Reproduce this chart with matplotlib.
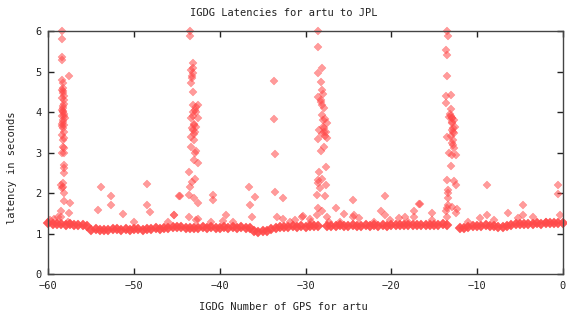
import matplotlib
matplotlib.use("Agg")
import matplotlib.pyplot as plt

# Baseline band (dense steady latency)
base_x = [-60.0, -59.5, -59.0, -58.5, -58.0, -57.5, -57.0, -56.5, -56.0, -55.5,
          -55.0, -54.5, -54.0, -53.5, -53.0, -52.5, -52.0, -51.5, -51.0, -50.5,
          -50.0, -49.5, -49.0, -48.5, -48.0, -47.5, -47.0, -46.5, -46.0, -45.5,
          -45.0, -44.5, -44.0, -43.5, -43.0, -42.5, -42.0, -41.5, -41.0, -40.5,
          -40.0, -39.5, -39.0, -38.5, -38.0, -37.5, -37.0, -36.5, -36.0, -35.5,
          -35.0, -34.5, -34.0, -33.5, -33.0, -32.5, -32.0, -31.5, -31.0, -30.5,
          -30.0, -29.5, -29.0, -28.5, -27.5, -27.0, -26.5, -26.0, -25.5, -25.0,
          -24.5, -24.0, -23.5, -23.0, -22.5, -22.0, -21.5, -21.0, -20.5, -20.0,
          -19.5, -19.0, -18.5, -18.0, -17.5, -17.0, -16.5, -16.0, -15.5, -15.0,
          -14.5, -14.0, -13.5, -12.0, -11.5, -11.0, -10.5, -10.0, -9.5, -9.0,
          -8.5, -8.0, -7.5, -7.0, -6.5, -6.0, -5.5, -5.0, -4.5, -4.0,
          -3.5, -3.0, -2.5, -2.0, -1.5, -1.0, -0.5, 0.0]
base_y = [1.27, 1.25, 1.24, 1.25, 1.22, 1.24, 1.22, 1.21, 1.22, 1.18,
          1.10, 1.11, 1.10, 1.09, 1.10, 1.11, 1.12, 1.10, 1.11, 1.10,
          1.11, 1.12, 1.10, 1.11, 1.12, 1.13, 1.12, 1.14, 1.15, 1.16,
          1.16, 1.17, 1.15, 1.14, 1.13, 1.15, 1.16, 1.15, 1.16, 1.15,
          1.15, 1.16, 1.15, 1.16, 1.15, 1.16, 1.15, 1.14, 1.07, 1.05,
          1.06, 1.07, 1.12, 1.15, 1.17, 1.16, 1.17, 1.18, 1.17, 1.18,
          1.17, 1.18, 1.19, 1.18, 1.19, 1.20, 1.20, 1.21, 1.20, 1.20,
          1.21, 1.20, 1.20, 1.21, 1.20, 1.21, 1.20, 1.21, 1.20, 1.21,
          1.22, 1.21, 1.22, 1.21, 1.22, 1.21, 1.22, 1.22, 1.21, 1.22,
          1.22, 1.23, 1.22, 1.14, 1.13, 1.16, 1.18, 1.19, 1.20, 1.21,
          1.20, 1.18, 1.17, 1.16, 1.20, 1.21, 1.23, 1.24, 1.23, 1.25,
          1.25, 1.26, 1.25, 1.26, 1.26, 1.27, 1.27, 1.27]

# Spikes and outliers
spike_x = [-58.47, -58.43, -58.43, -58.43, -58.47, -58.35, -57.66, -58.43, -58.35, -58.27,
           -58.47, -58.16, -58.39, -58.31, -58.27, -58.41, -58.35, -58.20, -58.37, -58.31,
           -58.24, -58.20, -58.37, -58.31, -58.24, -58.16, -58.41, -58.20, -58.22, -58.24,
           -58.49, -58.39, -58.31, -58.27, -58.16, -58.16, -57.50, -57.56, -58.51, -58.53,
           -58.30, -58.20, -58.40, -58.25, -58.10, -58.35, -58.20, -58.30, -58.15, -58.30,
           -58.20,
           -43.47, -43.47, -43.16, -43.35, -43.16, -43.24, -43.35, -43.16, -43.16, -42.78,
           -42.59, -43.16, -42.78, -43.35, -42.59, -42.97, -42.78, -43.16, -42.86, -43.35,
           -42.97, -43.35, -42.78, -42.86, -42.97, -42.59, -43.55, -43.24, -42.86, -43.47,
           -43.55, -43.08, -42.52, -43.55,
           -43.00, -43.10, -42.90, -43.20, -43.00, -43.10, -43.20,
           -28.50, -28.50, -28.12, -28.50, -28.20, -28.12, -28.50, -28.24, -28.12, -27.82,
           -28.05, -27.74, -27.55, -27.93, -28.43, -27.66, -27.74, -28.50, -27.55, -27.82,
           -28.20, -27.66, -28.43, -28.55, -28.05, -28.55, -28.35, -27.59, -28.62, -27.74,
           -28.55, -28.62, -28.05, -27.45, -27.32,
           -28.00, -27.90, -28.10, -27.80, -28.20, -28.00,
           -13.51, -13.43, -13.62, -13.51, -13.51, -13.66, -13.08, -13.58, -13.08, -13.28,
           -12.89, -12.70, -12.97, -12.58, -12.89, -12.70, -13.08, -13.51, -12.89, -12.70,
           -13.28, -12.89, -12.43, -13.08, -13.51, -12.70, -12.43, -13.39, -13.35, -13.39,
           -13.35, -12.97, -13.55, -12.35, -12.43, -13.66, -13.51,
           -13.00, -12.90, -13.10, -12.80, -12.75, -12.85, -12.95, -12.80,
           -53.93, -52.73, -52.73, -54.20, -51.30, -48.50, -48.50, -48.20, -45.30, -44.80,
           -44.71, -45.33, -40.76, -40.76, -39.28, -36.57, -36.50, -35.87, -36.30, -33.66,
           -33.66, -33.60, -33.60, -32.60, -32.60, -33.30, -31.20, -30.40, -42.80, -42.60,
           -39.60, -26.50, -25.50, -24.50, -24.40, -24.50, -23.80, -21.26, -20.76, -20.70,
           -20.20, -19.13, -18.40, -17.40, -17.40, -16.72, -15.25, -30.30, -29.50, -29.40,
           -16.60, -8.80, -8.80, -6.40, -4.67, -4.67, -3.50, -0.60, -0.60, -0.35,
           -9.60, -5.20, -15.30, -59.80, -58.90, -50.00, -46.00, -41.00, -38.50, -31.80,
           -26.00, -22.00, -18.00, -11.00, -8.00, -2.00, -57.70, -59.30]
spike_y = [6.00, 5.81, 5.35, 5.29, 4.80, 4.72, 4.90, 4.55, 4.51, 4.47,
           4.34, 4.30, 4.06, 4.10, 4.02, 3.90, 3.81, 3.90, 3.65, 3.60,
           3.68, 3.52, 3.44, 3.15, 3.11, 2.99, 2.99, 2.70, 2.62, 2.49,
           2.20, 2.12, 2.16, 2.24, 2.00, 1.80, 1.75, 1.52, 1.55, 1.42,
           4.00, 3.95, 3.70, 3.75, 3.85, 4.15, 4.20, 3.30, 3.35, 4.60,
           4.40,
           6.01, 5.87, 5.21, 5.04, 4.96, 4.84, 4.71, 4.50, 4.17, 4.13,
           4.17, 4.00, 4.00, 3.85, 3.85, 3.68, 3.64, 3.56, 3.50, 3.38,
           3.30, 3.13, 3.05, 3.00, 2.83, 2.74, 2.53, 2.28, 2.34, 2.16,
           1.96, 1.88, 1.75, 1.42,
           3.70, 3.90, 4.05, 3.60, 3.45, 5.10, 4.90,
           6.00, 5.60, 5.10, 4.97, 4.74, 4.55, 4.38, 4.26, 4.17, 4.09,
           3.93, 3.84, 3.72, 3.64, 3.56, 3.52, 3.40, 3.34, 3.35, 3.15,
           3.03, 2.64, 2.53, 2.33, 2.34, 2.25, 2.12, 2.20, 1.96, 1.92,
           1.63, 1.47, 1.57, 1.42, 1.30,
           3.80, 3.60, 3.45, 3.50, 4.30, 4.45,
           6.00, 5.87, 5.52, 5.41, 4.90, 4.39, 4.41, 4.22, 4.07, 3.89,
           3.85, 3.81, 3.72, 3.64, 3.56, 3.48, 3.40, 3.38, 3.23, 3.11,
           2.98, 2.94, 2.94, 2.66, 2.33, 2.29, 2.20, 2.08, 2.00, 1.88,
           1.71, 1.67, 1.63, 1.61, 1.52, 1.55, 1.42,
           3.90, 3.75, 3.95, 3.60, 3.50, 3.30, 3.85, 3.20,
           2.14, 1.92, 1.70, 1.59, 1.49, 2.22, 1.71, 1.53, 1.47, 1.92,
           1.92, 1.46, 1.96, 1.84, 1.46, 2.14, 1.71, 1.90, 1.42, 4.76,
           3.83, 2.97, 2.02, 1.89, 1.37, 1.42, 1.33, 1.42, 1.33, 1.37,
           1.31, 1.63, 1.48, 1.83, 1.47, 1.41, 1.39, 1.55, 1.92, 1.47,
           1.34, 1.39, 1.42, 1.41, 1.55, 1.74, 1.50, 1.44, 1.36, 1.30,
           1.74, 2.19, 1.46, 1.52, 1.71, 1.46, 1.42, 2.19, 1.98, 1.46,
           1.38, 1.38, 1.34, 1.33, 1.40, 1.28, 1.30, 1.30, 1.28, 1.30,
           1.30, 1.30, 1.30, 1.30, 1.33, 1.30, 1.30, 1.36]

title = "IGDG Latencies for artu to JPL"
xlabel = "IGDG Number of GPS for artu"
ylabel = "latency in seconds"
xticks = [-60, -50, -40, -30, -20, -10, 0]
yticks = [0, 1, 2, 3, 4, 5, 6]

plt.rcParams['font.family'] = ['DejaVu Sans Mono']
fig = plt.figure(figsize=(5.67, 3.2), dpi=100)
ax = fig.add_axes([0.0855, 0.143, 0.907, 0.760])

col = '#ff4a4a'
ax.plot(base_x, base_y, linestyle='none', marker='D', ms=5.4, mfc=col, mec=col,
        mew=0.3, alpha=0.92, clip_on=False)
ax.plot(spike_x, spike_y, linestyle='none', marker='D', ms=3.6, mfc=col, mec=col,
        mew=0.3, alpha=0.55, clip_on=False)

ax.set_xlim(-60, 0)
ax.set_ylim(0, 6)
ax.set_xticks(xticks)
ax.set_yticks(yticks)
ax.tick_params(direction='in', length=4, width=1, top=True, right=True,
               labelsize=7.5, colors='#222222', pad=5)
for s in ax.spines.values():
    s.set_color('#444444')
    s.set_linewidth(1)

fig.text(0.5, 0.958, title, ha='center', va='center', fontsize=7.5, color='#222222')
fig.text(0.5, 0.041, xlabel, ha='center', va='center', fontsize=7.5, color='#222222')
fig.text(0.022, 0.475, ylabel, ha='center', va='center', rotation=90, fontsize=7.5,
         color='#222222')

fig.savefig("out.png", dpi=100)
